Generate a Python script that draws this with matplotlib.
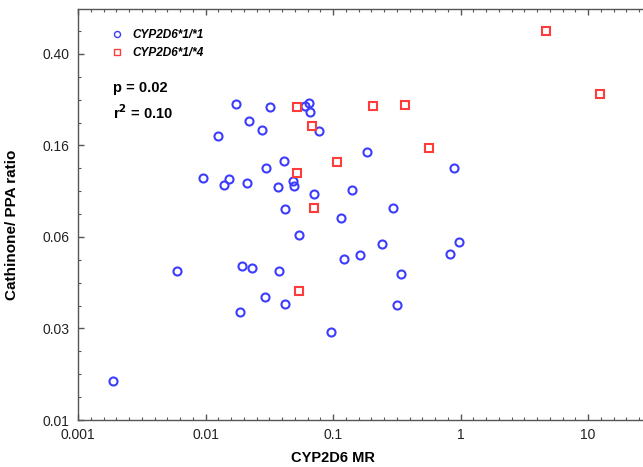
import matplotlib
matplotlib.use("Agg")
import matplotlib.pyplot as plt
from matplotlib.ticker import FixedLocator, FixedFormatter, NullFormatter
import numpy as np

plt.rcParams['font.family'] = ['Liberation Sans', 'DejaVu Sans']

# CYP2D6*1/*1 (blue circles)
mr_11 = [0.00188, 0.0060, 0.0096, 0.0126, 0.0140, 0.0153, 0.0174, 0.0188, 0.0194, 0.0213,
         0.0220, 0.0233, 0.0279, 0.0294, 0.0300, 0.0322, 0.0372, 0.0379, 0.0415, 0.0423,
         0.0423, 0.0489, 0.0498, 0.0545, 0.0607, 0.0653, 0.0664, 0.0715, 0.0782, 0.0955,
         0.116, 0.121, 0.142, 0.164, 0.186, 0.244, 0.293, 0.315, 0.344, 0.820, 0.883, 0.966]
ratio_11 = [0.0148, 0.0449, 0.1146, 0.175, 0.1066, 0.1135, 0.2415, 0.0297, 0.0472, 0.1089,
            0.2037, 0.0462, 0.1857, 0.0345, 0.1267, 0.2344, 0.1047, 0.0449, 0.1358, 0.0322,
            0.0838, 0.1111, 0.1057, 0.0645, 0.2366, 0.2438, 0.2228, 0.0975, 0.1839, 0.0243,
            0.0766, 0.0507, 0.1016, 0.0527, 0.149, 0.0589, 0.0847, 0.0318, 0.0435, 0.0532,
            0.1267, 0.0601]

# CYP2D6*1/*4 (red squares)
mr_14 = [0.0525, 0.0525, 0.0545, 0.0689, 0.0715, 0.108, 0.204, 0.364, 0.561, 4.66, 12.4]
ratio_14 = [0.2344, 0.1205, 0.0367, 0.1937, 0.0847, 0.1346, 0.2366, 0.2393, 0.155, 0.503, 0.2673]

x_ticks = [0.001, 0.01, 0.1, 1, 10]
x_ticklabels = ['0.001', '0.01', '0.1', '1', '10']
y_ticks = [0.01 * 40 ** (k / 4) for k in range(5)]
y_ticklabels = ['0.01', '0.03', '0.06', '0.16', '0.40']

fig = plt.figure(figsize=(6.43, 4.67), dpi=100)
ax = fig.add_axes([78 / 643, 47 / 467, 1 - 78 / 643, (420 - 9) / 467])

blue = '#3c3cff'
red = '#ff3c3c'
ax.plot(mr_11, ratio_11, linestyle='none', marker='o', ms=5.8, mfc='none', mec=blue, mew=1.5,
        label='CYP2D6*1/*1')
ax.plot(mr_14, ratio_14, linestyle='none', marker='s', ms=6.3, mfc='none', mec=red, mew=1.5,
        label='CYP2D6*1/*4')

ax.set_xscale('log')
ax.set_yscale('log')
ax.set_xlim(0.001, 10 ** (564 / 127.3 - 3))
ax.set_ylim(0.01, 10 ** (411 / 228.5 - 2))

ax.xaxis.set_major_locator(FixedLocator(x_ticks))
ax.xaxis.set_major_formatter(FixedFormatter(x_ticklabels))
xminor = [10 ** (e + i / 10) for e in range(-3, 2) for i in range(1, 10)]
ax.xaxis.set_minor_locator(FixedLocator(xminor))
ax.xaxis.set_minor_formatter(NullFormatter())

ax.yaxis.set_major_locator(FixedLocator(y_ticks))
ax.yaxis.set_major_formatter(FixedFormatter(y_ticklabels))
yminor = [0.01 * 40 ** (k / 16) for k in range(0, 20) if k % 4 != 0]
ax.yaxis.set_minor_locator(FixedLocator(yminor))
ax.yaxis.set_minor_formatter(NullFormatter())

spine_color = '#555555'
for s in ['left', 'bottom', 'top']:
    ax.spines[s].set_color(spine_color)
    ax.spines[s].set_linewidth(1.0)
ax.spines['right'].set_visible(False)

ax.tick_params(which='both', direction='in', top=True, right=False, color=spine_color,
               labelsize=10, labelcolor='#222222')
ax.tick_params(which='major', length=4, width=1.0, pad=6)
ax.tick_params(which='minor', length=2.5, width=0.8)

ax.set_xlabel('CYP2D6 MR', fontsize=10.5, fontweight='bold')
ax.set_ylabel('Cathinone/ PPA ratio', fontsize=11, fontweight='bold')
ax.xaxis.set_label_coords(0.451, -0.076)
ax.yaxis.set_label_coords(-0.105, 0.474)

leg = ax.legend(loc='upper left', bbox_to_anchor=(0.04, 0.962), frameon=False,
                handletextpad=0.3, labelspacing=0.45, borderaxespad=0.0, markerscale=0.75,
                prop={'family': 'Liberation Sans', 'weight': 'bold', 'style': 'italic', 'size': 8.5})
for h in leg.legend_handles:
    h.set_markeredgewidth(1.0)

ax.text(0.062, 0.807, 'p = 0.02', transform=ax.transAxes, fontsize=10.5, fontweight='bold',
        va='center', ha='left')
ax.text(0.062, 0.749, r'r$^{\mathbf{2}}$ = 0.10', transform=ax.transAxes, fontsize=10.5,
        fontweight='bold', va='center', ha='left')

fig.savefig('out.png', dpi=100)
